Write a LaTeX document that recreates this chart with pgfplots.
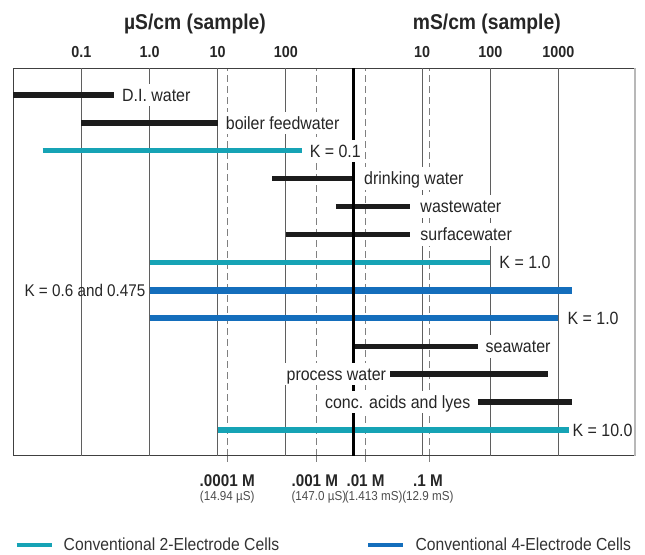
\documentclass[border=0pt]{standalone}
\usepackage{fontspec}
\setmainfont{Liberation Sans}[FakeStretch=0.9]
\usepackage{pgfplots}
\pgfplotsset{compat=1.18}
\definecolor{cteal}{RGB}{22,163,181}
\definecolor{cblue}{RGB}{20,110,188}
\definecolor{cbar}{RGB}{28,28,28}
\definecolor{cgrid}{RGB}{95,95,95}
\tikzset{
  lab/.style={font=\fontsize{17.8}{20}\selectfont, fill=white, inner sep=1.5bp, text height=16bp, text depth=3.6bp, text=black!85},
  toplab/.style={font=\fontsize{16}{18}\selectfont\bfseries, anchor=base, text=black!85},
  ttl/.style={font=\fontsize{21.5}{24}\selectfont\bfseries, anchor=base, text=black!85},
  botlab/.style={font=\fontsize{17}{19}\selectfont\bfseries, anchor=base, text=black!85},
  sublab/.style={font=\fontsize{13}{15}\selectfont, anchor=base, text=black!70, inner sep=0pt},
}
\begin{document}
\begin{tikzpicture}
\begin{axis}[
  scale only axis, width=621.7bp, height=387.4bp,
  xmode=log, xmin=0.01, xmax=1.33e7,
  ymin=0.08, ymax=13.956,
  clip=false,
  axis line style={draw=black!75, line width=1.2bp},
  xtick={13.8,285,1480,13000}, xticklabels={},
  xtick pos=bottom, xtick align=outside, major tick length=6bp,
  tick style={black!50, line width=0.8bp},
  ytick=\empty,
  xmajorgrids,
  major grid style={black!50, line width=0.8bp, dash pattern=on 7bp off 4bp},
  extra x ticks={0.1,1,10,100,1e4,1e5,1e6},
  extra x tick labels={},
  extra x tick style={major tick length=0pt, major grid style={cgrid, line width=0.9bp, solid}},
  legend style={at={(rel axis cs:0.0016,-0.2305)}, anchor=west, draw=none, fill=none,
    inner sep=0pt, outer sep=0pt, legend columns=2,
    font=\fontsize{17.5}{20}\selectfont, text=black!80,
    /tikz/every even column/.append style={column sep=85bp}},
  legend cell align=left,
  legend image code/.code={\draw[#1, line width=4.5bp] (0bp,0bp) -- (35bp,0bp); \path (45bp,0bp);},
]
\addlegendimage{cteal}
\addlegendentry{Conventional 2-Electrode Cells}
\addlegendimage{cblue}
\addlegendentry{Conventional 4-Electrode Cells}

% bars (row r at y = 14 - r)
\addplot[forget plot, cbar, line width=5.5bp] coordinates {(0.01,13) (0.3,13)};
\addplot[forget plot, cbar, line width=5.5bp] coordinates {(0.1,12) (10,12)};
\addplot[forget plot, cteal, line width=5.3bp] coordinates {(0.027,11) (170,11)};
\addplot[forget plot, cbar, line width=5.5bp] coordinates {(63,10) (1000,10)};
\addplot[forget plot, cbar, line width=5.5bp] coordinates {(540,9) (6700,9)};
\addplot[forget plot, cbar, line width=5.5bp] coordinates {(100,8) (6700,8)};
\addplot[forget plot, cteal, line width=5.3bp] coordinates {(1,7) (1e5,7)};
\addplot[forget plot, cblue, line width=6.3bp] coordinates {(1,6) (1.56e6,6)};
\addplot[forget plot, cblue, line width=6.3bp] coordinates {(1,5) (1e6,5)};
\addplot[forget plot, cbar, line width=5.5bp] coordinates {(1000,4) (65000,4)};
\addplot[forget plot, cbar, line width=5.5bp] coordinates {(3400,3) (7e5,3)};
\addplot[forget plot, cbar, line width=5.5bp] coordinates {(66000,2) (1.56e6,2)};
\addplot[forget plot, cteal, line width=5.3bp] coordinates {(10,1) (1.45e6,1)};
% 1 mS/cm line
\addplot[forget plot, black, line width=3bp] coordinates {(1000,0.08) (1000,13.956)};
% light right border
\addplot[forget plot, black!28, line width=2bp] coordinates {(1.33e7,0.08) (1.33e7,13.956)};

% labels
\node[lab, anchor=west, xshift=6.5bp] at (axis cs:0.3,13) {D.I. water};
\node[lab, anchor=west, xshift=6.5bp] at (axis cs:10,12) {boiler feedwater};
\node[lab, anchor=west, xshift=6.5bp] at (axis cs:170,11) {K = 0.1};
\node[lab, anchor=west, xshift=8.5bp] at (axis cs:1000,10) {drinking water};
\node[lab, anchor=west, xshift=8.5bp] at (axis cs:6700,9) {wastewater};
\node[lab, anchor=west, xshift=8.5bp] at (axis cs:6700,8) {surfacewater};
\node[lab, anchor=west, xshift=7.5bp] at (axis cs:1e5,7) {K = 1.0};
\node[lab, fill=none, anchor=east, xshift=-2.5bp, font=\fontsize{17}{20}\selectfont] at (axis cs:1,6) {K = 0.6 and 0.475};
\node[lab, anchor=west, xshift=7.5bp] at (axis cs:1e6,5) {K = 1.0};
\node[lab, anchor=west, xshift=6.5bp] at (axis cs:65000,4) {seawater};
\node[lab, anchor=east, xshift=-2.5bp] at (axis cs:3400,3) {process water};
\node[lab, anchor=east, xshift=-6bp] at (axis cs:66000,2) {conc. acids and lyes};
\node[lab, anchor=west, xshift=1.5bp] at (axis cs:1.45e6,1) {K = 10.0};

% top scale
\node[ttl] at (axis cs:4.64,15.328) {µS/cm (sample)};
\node[ttl] at (axis cs:8.9e4,15.328) {mS/cm (sample)};
\node[toplab] at (axis cs:0.1,14.325) {0.1};
\node[toplab] at (axis cs:1,14.325) {1.0};
\node[toplab] at (axis cs:10,14.325) {10};
\node[toplab] at (axis cs:100,14.325) {100};
\node[toplab] at (axis cs:1e4,14.325) {10};
\node[toplab] at (axis cs:1e5,14.325) {100};
\node[toplab] at (axis cs:1e6,14.325) {1000};

% bottom scale
\node[botlab] at (axis cs:13.8,-1.03) {.0001 M};
\node[botlab, xshift=-2bp] at (axis cs:285,-1.03) {.001 M};
\node[botlab] at (axis cs:1480,-1.03) {.01 M};
\node[botlab, xshift=-2bp] at (axis cs:13000,-1.03) {.1 M};
\node[sublab] at (axis cs:13.8,-1.54) {(14.94 µS)};
\node[sublab, xshift=2bp] at (axis cs:285,-1.54) {(147.0 µS)};
\node[sublab, xshift=8bp] at (axis cs:1480,-1.54) {(1.413 mS)};
\node[sublab, xshift=-2bp] at (axis cs:13000,-1.54) {(12.9 mS)};

% picture extent
\path (rel axis cs:-0.0214,-0.2512) rectangle (rel axis cs:1.0161,1.1763);
\end{axis}
\end{tikzpicture}
\end{document}
